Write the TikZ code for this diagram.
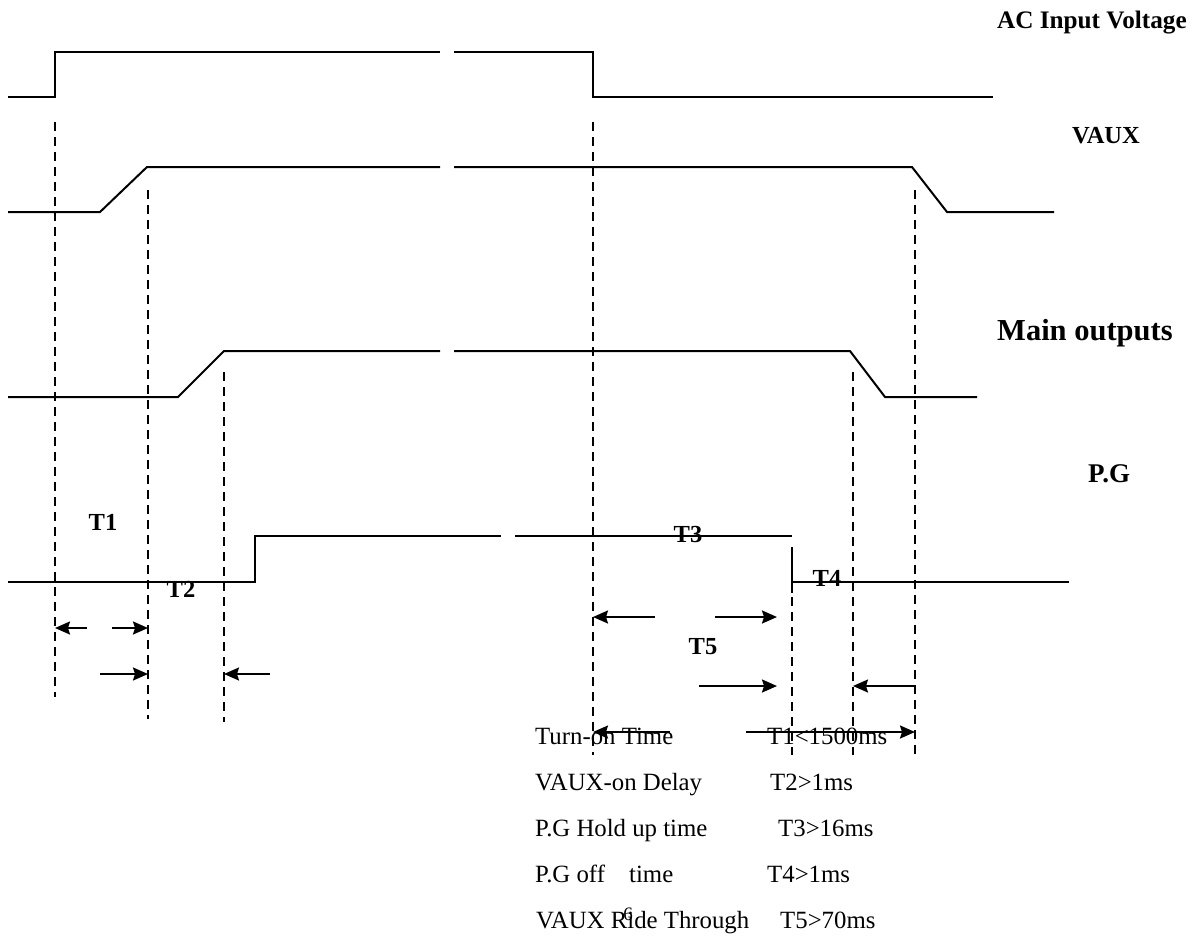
\documentclass[tikz,border=0pt]{standalone}
\usepackage{fontspec}
\setmainfont{Liberation Serif}
\usetikzlibrary{arrows.meta}
\begin{document}
\begin{tikzpicture}[x=1pt,y=-1pt,
  sig/.style={line width=2pt},
  guide/.style={line width=2.3pt, dash pattern=on 9pt off 6pt},
  dim/.style={line width=2pt, -{Stealth[length=15pt,width=13pt,inset=2pt]}},
  lbl/.style={font=\bfseries\fontsize{24.5}{28}\selectfont, inner sep=0pt, anchor=base},
  rlbl/.style={inner sep=0pt, anchor=base west},
  txt/.style={font=\fontsize{24.8}{29}\selectfont, inner sep=0pt, anchor=base west}]
\useasboundingbox (0,0) rectangle (1197,935);

% ---- signals ----
% AC input
\draw[sig] (8,97) -- (55,97) -- (55,52) -- (440,52);
\draw[sig] (454,52) -- (593,52) -- (593,97) -- (993,97);
% VAUX
\draw[sig] (8,212) -- (100,212) -- (147,167) -- (440,167);
\draw[sig] (454,167) -- (912,167) -- (947,212) -- (1054,212);
% Main outputs
\draw[sig] (8,397) -- (178,397) -- (224,351) -- (440,351);
\draw[sig] (454,351) -- (850,351) -- (885,397) -- (977,397);
% P.G
\draw[sig] (8,582) -- (255,582) -- (255,536) -- (501,536);
\draw[sig] (515,536) -- (792,536);
\draw[line width=1.4pt] (792,547) -- (792,593);
\draw[sig] (792,582) -- (1069,582);

% ---- guide lines ----
\coordinate (g1t) at (55,122);  \coordinate (g1b) at (55,697);
\coordinate (g2t) at (148,190); \coordinate (g2b) at (148,719);
\coordinate (g3t) at (224,372); \coordinate (g3b) at (224,722);
\coordinate (g4t) at (593,122); \coordinate (g4b) at (593,755);
\coordinate (g5t) at (792,597); \coordinate (g5b) at (792,755);
\coordinate (g6t) at (853,372); \coordinate (g6b) at (853,755);
\coordinate (g7t) at (915,190); \coordinate (g7b) at (915,755);
\foreach \i in {1,...,7} {\draw[guide] (g\i t) -- (g\i b);}

% ---- dimension arrows ----
\coordinate (a1s) at (87,628);  \coordinate (a1e) at (55,628);
\coordinate (a2s) at (112,628); \coordinate (a2e) at (148,628);
\coordinate (a3s) at (100,674); \coordinate (a3e) at (148,674);
\coordinate (a4s) at (270,674); \coordinate (a4e) at (224,674);
\coordinate (a5s) at (655,617); \coordinate (a5e) at (593,617);
\coordinate (a6s) at (715,617); \coordinate (a6e) at (777,617);
\coordinate (a7s) at (699,686); \coordinate (a7e) at (777,686);
\coordinate (a8s) at (915,686); \coordinate (a8e) at (853,686);
\coordinate (a9s) at (670,732); \coordinate (a9e) at (593,732);
\coordinate (a10s) at (746,732); \coordinate (a10e) at (915,732);
\foreach \i in {1,...,10} {\draw[dim] (a\i s) -- (a\i e);}

% ---- signal names ----
\node[rlbl, font=\bfseries\fontsize{25.2}{29}\selectfont] (nac) at (997,28) {AC Input Voltage};
\node[rlbl, font=\bfseries\fontsize{24.5}{28}\selectfont] (nvaux) at (1072,143) {VAUX};
\node[rlbl, font=\bfseries\fontsize{30.5}{35}\selectfont] (nmain) at (997,340) {Main outputs};
\node[rlbl, font=\bfseries\fontsize{27}{32}\selectfont] (npg) at (1088,482) {P.G};

% ---- interval labels ----
\node[lbl] (t1) at (103,530) {T1};
\node[lbl] (t2) at (181,597) {T2};
\node[lbl] (t3) at (688,542) {T3};
\node[lbl] (t4) at (827,586) {T4};
\node[lbl] (t5) at (703,654) {T5};

% ---- table ----
\node[txt] (r1a) at (535,744) {Turn-on Time};
\node[txt] (r1b) at (767,744) {T1<1500ms};
\node[txt] (r2a) at (535,790) {VAUX-on Delay};
\node[txt] (r2b) at (770,790) {T2>1ms};
\node[txt] (r3a) at (535,836) {P.G Hold up time};
\node[txt] (r3b) at (778,836) {T3>16ms};
\node[txt] (r4a) at (535,882) {P.G off\hspace{18pt} time};
\node[txt] (r4b) at (767,882) {T4>1ms};
\node[txt] (r5a) at (536,928) {VAUX Ride Through};
\node[txt] (r5b) at (780,928) {T5>70ms};
\node[inner sep=0pt, anchor=base, font=\fontsize{19}{22}\selectfont] (pgno) at (628,920) {6};
\end{tikzpicture}
\end{document}
